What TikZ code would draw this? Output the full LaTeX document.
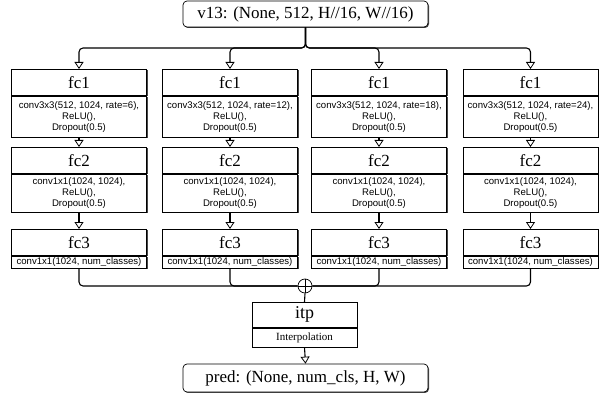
\documentclass[tikz,border=0pt]{standalone}
\usepackage{fontspec}
\setmainfont{Liberation Serif}
\newfontfamily\sansf{Liberation Sans}
\usetikzlibrary{arrows.meta,shadows,calc}
\tikzset{
  shad/.style={drop shadow={shadow xshift=1pt,shadow yshift=-1pt,fill=black!80,opacity=0.9}},
  box/.style={draw, line width=0.7pt, fill=white, shad, minimum width=135pt, inner sep=0pt, anchor=north},
  headbox/.style={box, minimum height=26pt, font=\fontsize{17}{20}\selectfont},
  bodybox/.style={box, align=center, font=\sansf\fontsize{9.6}{11}\selectfont, inner xsep=2pt, inner ysep=0pt},
  conn/.style={line width=1.1pt, rounded corners=4pt},
  arr/.style={-{Triangle[open,length=7pt,width=9pt,line width=0.8pt,fill=white]}},
  term/.style={draw, rounded corners=4pt, line width=0.7pt, fill=white, shad, minimum width=245pt, inner sep=0pt, font=\fontsize{17}{20}\selectfont}
}
\begin{document}
\begin{tikzpicture}[x=1pt,y=-1pt]
\useasboundingbox (0,0) rectangle (605,393);
\node[term, minimum height=26pt] (top) at (305.5,14) {v13: (None, 512, H//16, W//16)};
\node[circle, draw, line width=0.7pt, minimum size=14pt, inner sep=0pt, fill=white] (sum) at (305,286) {};
\draw[line width=0.7pt] (sum.north) -- (sum.south) (sum.west) -- (sum.east);
\foreach \i/\x/\r in {1/79/6,2/230/12,3/379/18,4/530.5/24}{
  \node[headbox] (ha\i) at (\x,69) {fc1};
  \node[bodybox, minimum height=41pt] (ba\i) at (ha\i.south) {conv3x3(512, 1024, rate=\r),\\ReLU(),\\Dropout(0.5)};
  \node[headbox] (hb\i) at (\x,147) {fc2};
  \node[bodybox, minimum height=38pt] (bb\i) at (hb\i.south) {conv1x1(1024, 1024),\\ReLU(),\\Dropout(0.5)};
  \node[headbox] (hc\i) at (\x,229) {fc3};
  \node[bodybox, minimum height=12pt] (bc\i) at (hc\i.south) {conv1x1(1024, num\_classes)};
  \coordinate (sp\i) at (\x,48);
  \draw[conn,arr] (top.south) |- (sp\i) -- (ha\i.north);
  \draw[conn,arr] (ba\i.south) -- (hb\i.north);
  \draw[conn,arr] (bb\i.south) -- (hc\i.north);
}
\draw[conn] (bc1.south) |- (sum.west);
\draw[conn] (bc2.south) |- (sum.west);
\draw[conn] (bc3.south) |- (sum.east);
\draw[conn] (bc4.south) |- (sum.east);
\node[headbox, minimum width=105pt, minimum height=25pt, font=\fontsize{18}{20}\selectfont] (ih) at (304.5,302) {itp};
\node[box, minimum width=105pt, minimum height=19pt, font=\fontsize{11}{13}\selectfont] (ib) at (ih.south) {Interpolation};
\draw[conn] (sum.south) -- (ih.north);
\node[term, minimum height=28pt] (pred) at (305.5,378) {pred: (None, num\_cls, H, W)};
\draw[conn,arr] (ib.south) -- (pred.north);
\end{tikzpicture}
\end{document}
